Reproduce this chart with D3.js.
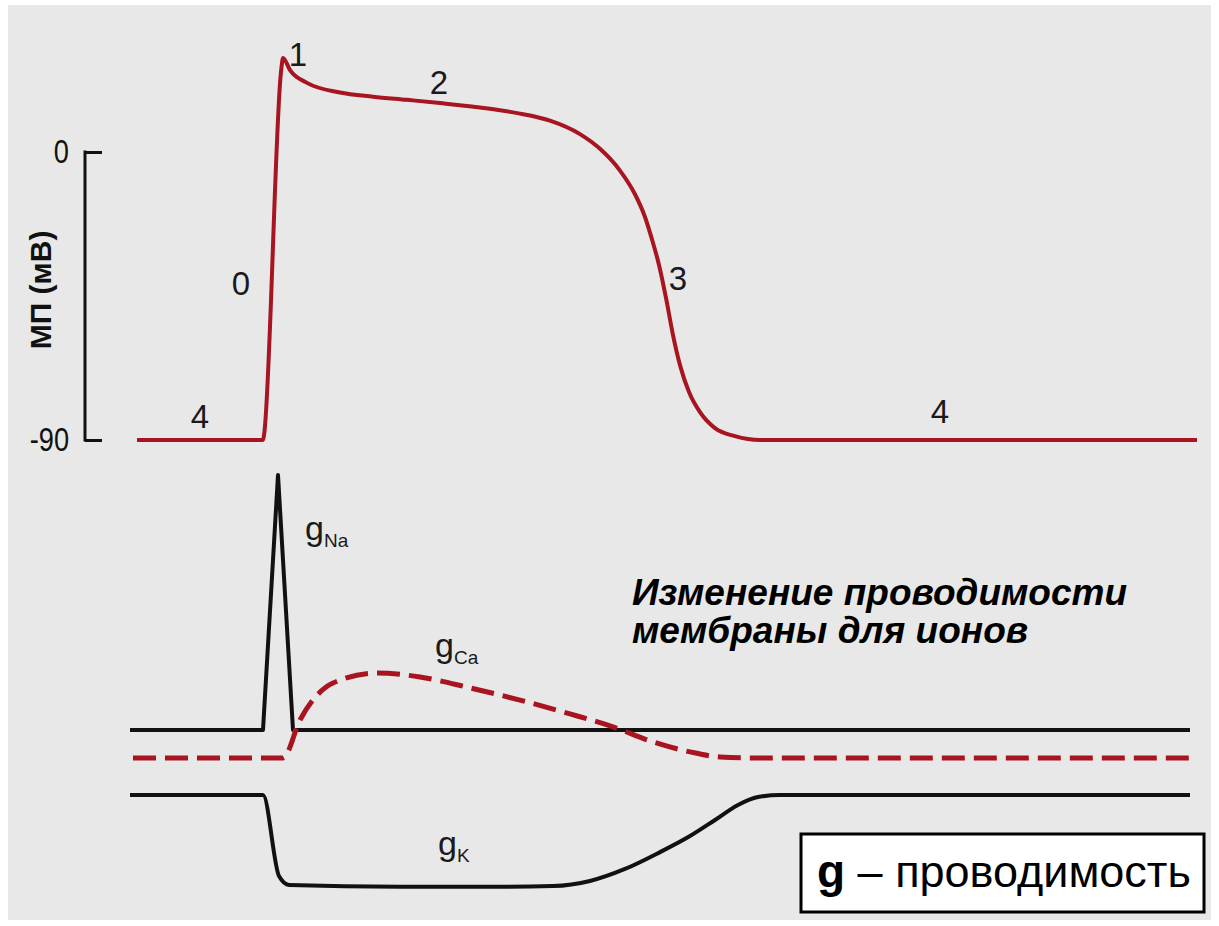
<!DOCTYPE html>
<html>
<head>
<meta charset="utf-8">
<script src="https://cdn.jsdelivr.net/npm/d3@7"></script>
<style>
  body { margin: 0; background: #fff; }
</style>
</head>
<body>
<div id="chart-area"></div>
<script>
// Action potential (time in ms, membrane potential in mV)
var apTime    = [0, 63, 63.5, 72, 73, 76.5, 85, 101.5, 118, 135, 151.5, 176.5, 191.5, 206.5, 221.5, 231.5, 241.5, 249, 254, 257.5, 261, 264.5, 268, 271.5, 276, 281.5, 289, 299, 311.5, 326.5, 530];
var apVoltage = [-90, -90, -88.5, 25, 29.4, 25.6, 21.6, 18.6, 17.3, 16.3, 15.3, 13.5, 12, 9.8, 5.6, 1, -5.8, -13.2, -20.3, -27.3, -35.3, -45.6, -57.2, -66.6, -75, -81.3, -86.3, -88.8, -90, -90, -90];

// Conductances (relative units, 0 = resting level)
var naTime  = [-3.5, 63, 70.5, 78, 526.5];
var naValue = [0, 0, 100, 0, 0];

var caTime  = [-2, 73, 81.5, 98, 120, 141.5, 166.5, 191.5, 216.5, 238, 258, 276.5, 291.5, 308, 529];
var caValue = [0, 0, 14.9, 29.4, 33.3, 31.8, 27.5, 22.7, 17.3, 12.2, 6.3, 2.4, 0.4, 0, 0];

var kTime  = [-3.5, 63, 71, 76, 131.5, 181.5, 208, 226.5, 244, 261.5, 276.5, 289, 300.5, 310.5, 321.5, 526.5];
var kValue = [0, 0, -31.8, -35.3, -36, -36, -35.7, -33.7, -29, -22.4, -16.1, -9.8, -3.9, -0.8, 0, 0];

// Axis ticks
var vTicks = [0, -90];

// Phase labels
var phaseLabels = [
  { text: "0", t: 52,  v: -44.7 },
  { text: "1", t: 80.5, v: 26.9 },
  { text: "2", t: 151, v: 18 },
  { text: "3", t: 270.5, v: -43 },
  { text: "4", t: 31.5, v: -86.2 },
  { text: "4", t: 401.5, v: -84.7 }
];

var W = 1219, H = 926;
var svg = d3.select("#chart-area").append("svg")
    .attr("width", W)
    .attr("height", H)
    .attr("font-family", "'Liberation Sans', Arial, sans-serif");

// gray panel
svg.append("rect")
    .attr("x", 8).attr("y", 5)
    .attr("width", 1203).attr("height", 915)
    .attr("fill", "#e8e8e8");

// Scales
var x = d3.scaleLinear().domain([0, 530]).range([137, 1197]);
var y = d3.scaleLinear().domain([-90, 0]).range([440, 152]);
var g = d3.scaleLinear().domain([0, 100]).range([0, -255]);

var red = "#a8141f";

// Voltage bracket axis
var yAxis = d3.axisLeft(y)
    .tickValues(vTicks)
    .tickSize(-17)
    .tickFormat(function(d){ return String(d); });

var axisG = svg.append("g")
    .attr("transform", "translate(85,0)")
    .call(yAxis)
    .attr("font-family", null)
    .attr("font-size", null);
axisG.select(".domain").remove();
axisG.selectAll(".tick line")
    .attr("stroke", "#111")
    .attr("stroke-width", 3);
// narrow digits, squeezed horizontally
axisG.selectAll(".tick text")
    .attr("font-size", "34px")
    .attr("fill", "#111")
    .attr("transform", "scale(0.8,1)")
    .attr("x", -20)
    .attr("dy", "0.3em");
axisG.append("line")
    .attr("x1", 0).attr("x2", 0)
    .attr("y1", y(0) - 1.5).attr("y2", y(-90) + 1.5)
    .attr("stroke", "#111")
    .attr("stroke-width", 3);

// Y label
svg.append("text")
    .attr("transform", "translate(51,290) rotate(-90)")
    .attr("text-anchor", "middle")
    .attr("font-size", "30px")
    .attr("font-weight", "bold")
    .attr("fill", "#111")
    .text("МП (мВ)");

// Action potential line
var apData = apTime.map(function(t, i){ return { t: t, v: apVoltage[i] }; });
var apLine = d3.line()
    .x(function(d){ return x(d.t); })
    .y(function(d){ return y(d.v); })
    .curve(d3.curveMonotoneX);

svg.append("path")
    .datum(apData)
    .attr("d", apLine)
    .attr("fill", "none")
    .attr("stroke", red)
    .attr("stroke-width", 4)
    .attr("stroke-linejoin", "round");

// Phase labels
svg.selectAll(".phase")
    .data(phaseLabels)
    .enter().append("text")
    .attr("class", "phase")
    .attr("x", function(d){ return x(d.t); })
    .attr("y", function(d){ return y(d.v); })
    .attr("text-anchor", "middle")
    .attr("font-size", "33px")
    .attr("fill", "#1a1a1a")
    .text(function(d){ return d.text; });

// Conductance traces
var traces = [
  { name: "Na", t: naTime, v: naValue, base: 730, color: "#111", width: 4, dash: null, curve: d3.curveLinear,
    label: { t: 84, v: 74.5 } },
  { name: "Ca", t: caTime, v: caValue, base: 758, color: red, width: 5, dash: "23,9", curve: d3.curveMonotoneX,
    label: { t: 149, v: 39.6 } },
  { name: "K",  t: kTime,  v: kValue,  base: 795, color: "#111", width: 4, dash: null, curve: d3.curveMonotoneX,
    label: { t: 150.5, v: -23.5 } }
];

traces.forEach(function(tr){
  var data = tr.t.map(function(t, i){ return { t: t, v: tr.v[i] }; });
  var line = d3.line()
      .x(function(d){ return x(d.t); })
      .y(function(d){ return tr.base + g(d.v); })
      .curve(tr.curve);

  svg.append("path")
      .datum(data)
      .attr("d", line)
      .attr("fill", "none")
      .attr("stroke", tr.color)
      .attr("stroke-width", tr.width)
      .attr("stroke-dasharray", tr.dash)
      .attr("stroke-linejoin", "round");

  var lbl = svg.append("text")
      .attr("x", x(tr.label.t))
      .attr("y", tr.base + g(tr.label.v))
      .attr("fill", "#1a1a1a")
      .attr("font-size", "34px");
  lbl.append("tspan").text("g");
  lbl.append("tspan")
      .attr("font-size", "19px")
      .attr("dy", 7)
      .text(tr.name);
});

// Italic caption
var caption = svg.append("text")
    .attr("x", 632)
    .attr("y", 605)
    .attr("font-size", "37px")
    .attr("font-weight", "bold")
    .attr("font-style", "italic")
    .attr("fill", "#000");
caption.append("tspan").attr("x", 632).text("Изменение проводимости");
caption.append("tspan").attr("x", 632).attr("dy", 38).text("мембраны для ионов");

// Legend box
svg.append("rect")
    .attr("x", 801).attr("y", 834)
    .attr("width", 403).attr("height", 78)
    .attr("fill", "#fff")
    .attr("stroke", "#000")
    .attr("stroke-width", 3);

var legendText = svg.append("text")
    .attr("x", 817)
    .attr("y", 887)
    .attr("fill", "#000")
    .attr("font-size", "45px");
legendText.append("tspan")
    .attr("font-weight", "bold")
    .attr("font-size", "46px")
    .text("g");
legendText.append("tspan").text(" – проводимость");
</script>
</body>
</html>
